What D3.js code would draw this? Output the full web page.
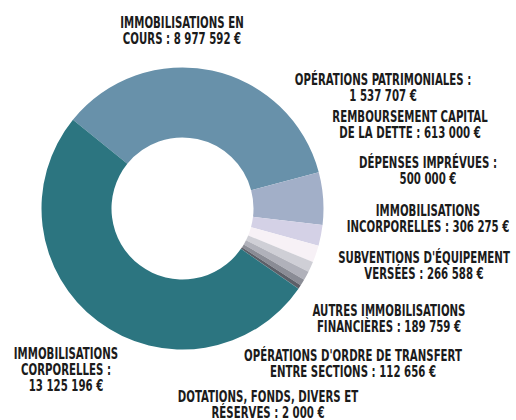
<!DOCTYPE html>
<html>
<head>
    <meta charset="utf-8">
    <title>investissement</title>
    <style>
        body {
            margin: 0;
            padding: 0;
            background: #ffffff;
        }
        .lbl {
            font-family: "DejaVu Sans Condensed", "DejaVu Sans", sans-serif;
            font-weight: bold;
            font-size: 16px;
            fill: #1b1b1b;
        }
    </style>
</head>
<body>
    <svg id="chart" width="516" height="420"></svg>
    <script src="https://d3js.org/d3.v7.min.js"></script>
    <script>
        // Postes (ordre horaire, en partant du haut gauche)
        const postes = [
            "IMMOBILISATIONS EN COURS",
            "OPÉRATIONS PATRIMONIALES",
            "REMBOURSEMENT CAPITAL DE LA DETTE",
            "DÉPENSES IMPRÉVUES",
            "IMMOBILISATIONS INCORPORELLES",
            "SUBVENTIONS D'ÉQUIPEMENT VERSÉES",
            "AUTRES IMMOBILISATIONS FINANCIÈRES",
            "OPÉRATIONS D'ORDRE DE TRANSFERT ENTRE SECTIONS",
            "DOTATIONS, FONDS, DIVERS ET RÉSERVES",
            "IMMOBILISATIONS CORPORELLES"
        ];
        const montants = [8977592, 1537707, 613000, 500000, 306275, 266588, 189759, 112656, 2000, 13125196];
        const couleurs = ["#6891aa", "#a2afc8", "#d4d1e6", "#f7f1f6", "#cfcfd6",
                          "#b0b1ba", "#8a8c95", "#5c5f68", "#3a3d45", "#2c7580"];

        // Libellés tels qu'affichés (lignes)
        const libelles = [
            ["IMMOBILISATIONS EN", "COURS : 8 977 592 €"],
            ["OPÉRATIONS PATRIMONIALES :", "1 537 707 €"],
            ["REMBOURSEMENT CAPITAL", "DE LA DETTE : 613 000 €"],
            ["DÉPENSES IMPRÉVUES :", "500 000 €"],
            ["IMMOBILISATIONS", "INCORPORELLES : 306 275 €"],
            ["SUBVENTIONS D'ÉQUIPEMENT", "VERSÉES : 266 588 €"],
            ["AUTRES IMMOBILISATIONS", "FINANCIÈRES : 189 759 €"],
            ["OPÉRATIONS D'ORDRE DE TRANSFERT", "ENTRE SECTIONS : 112 656 €"],
            ["DOTATIONS, FONDS, DIVERS ET", "RÉSERVES : 2 000 €"],
            ["IMMOBILISATIONS", "CORPORELLES :", "13 125 196 €"]
        ];
        // position du libellé (centre, ligne de base de la 1re ligne)
        const libPos = [
            [182, 28], [383, 85], [410, 122], [428, 168], [428, 216],
            [424, 263], [389, 316], [353, 361], [268, 402], [66, 359]
        ];

        const svg = d3.select('#chart');
        const cx = 182.5, cy = 208.5;
        const rOut = 141, rIn = 71;

        const g = svg.append('g').attr('transform', `translate(${cx},${cy})`);

        const startA = -51 * Math.PI / 180;
        const pie = d3.pie()
            .sort(null)
            .startAngle(startA)
            .endAngle(startA + 2 * Math.PI);

        const arc = d3.arc().innerRadius(rIn).outerRadius(rOut);

        g.selectAll('path')
            .data(pie(montants))
            .enter()
            .append('path')
            .attr('d', arc)
            .attr('fill', (d, i) => couleurs[i]);

        // Libellés (police étroite : on compresse horizontalement)
        libelles.forEach((lines, i) => {
            const t = svg.append('g')
                .attr('transform', `translate(${libPos[i][0]},${libPos[i][1]}) scale(0.71,1)`)
                .append('text')
                .attr('class', 'lbl')
                .attr('text-anchor', 'middle');
            lines.forEach((l, j) => {
                t.append('tspan')
                    .attr('x', 0)
                    .attr('y', j * 16)
                    .text(l);
            });
        });
    </script>
</body>
</html>
